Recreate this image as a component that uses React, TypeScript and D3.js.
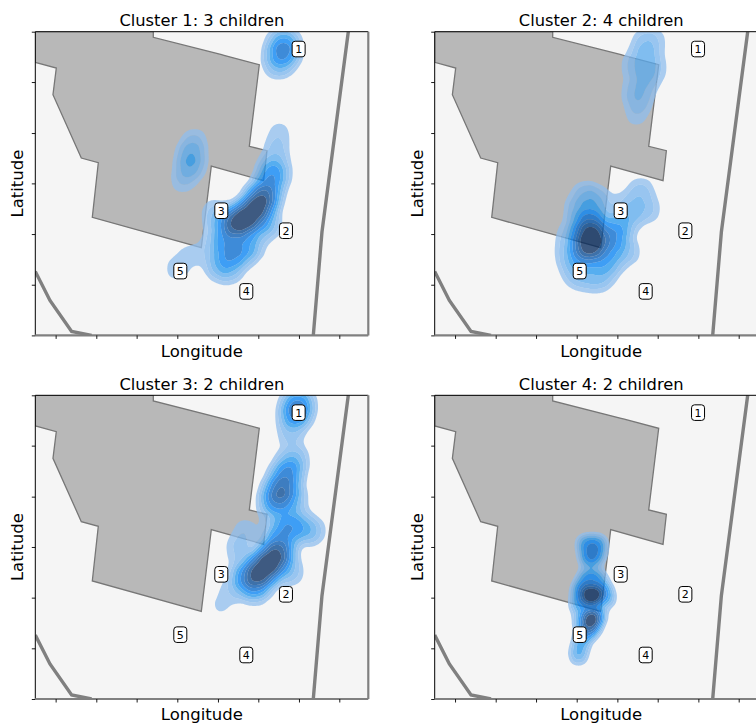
import { useEffect, useRef } from 'react';
import * as d3 from 'd3';

const lonDomain = [106, 1105];
const latDomain = [0, 911];
const lonTicks = [167, 289, 410, 532, 654, 775, 897, 1018];
const latTicks = [0, 152, 304, 456, 607, 760, 911];

const titles = ['Cluster 1: 3 children', 'Cluster 2: 4 children', 'Cluster 3: 2 children', 'Cluster 4: 2 children'];

// blocks boundary
const zone: [number, number][] = [
  [460, 911], [460, 894], [665, 842], [672, 840], [778, 812], [748, 567], [801, 554], [791, 464], [634, 508],
  [604, 263], [277, 354], [295, 518], [244, 532], [159, 722], [169, 802], [106, 819], [106, 911],
];
const roadRight: [number, number][] = [[1045, 911], [966, 310], [940, 0]];
const roadLeft: [number, number][] = [[106, 192], [150, 105], [215, 12], [275, 0]];

const schoolIds = ['1', '2', '3', '4', '5'];
const schoolLon = [896, 858, 664, 739, 541];
const schoolLat = [859, 314, 374, 132, 193];

// children locations with a weight, one list per cluster
const cluster1Points: [number, number, number][] = [
  [852, 880, 0.55], [848, 845, 0.62], [835, 805, 0.28], [870, 850, 0.12], [820, 840, 0.1],
  [585, 590, 0.2], [572, 545, 0.36], [565, 500, 0.3], [545, 455, 0.17], [590, 510, 0.1],
  [705, 335, 1.5], [740, 350, 1.5], [770, 385, 1.5], [795, 420, 1.3], [670, 280, 0.6], [700, 240, 0.65], [745, 265, 0.6],
  [815, 485, 0.7], [832, 480, 0.2], [828, 550, 0.28], [838, 612, 0.18], [650, 350, 0.35], [655, 210, 0.38], [690, 190, 0.25],
  [530, 198, 0.2], [565, 240, 0.15], [610, 265, 0.1], [630, 400, 0.08], [800, 330, 0.45],
];
const cluster2Points: [number, number, number][] = [
  [735, 880, 0.3], [742, 830, 0.36], [740, 770, 0.34], [725, 710, 0.28], [710, 655, 0.2], [775, 890, 0.14],
  [695, 810, 0.22], [695, 730, 0.18], [775, 800, 0.14],
  [572, 305, 1.6], [572, 265, 1.8], [575, 345, 0.8], [595, 405, 0.35], [550, 240, 0.5], [545, 175, 0.3],
  [600, 170, 0.4], [635, 285, 0.9], [660, 330, 0.6], [700, 370, 0.32], [725, 435, 0.32], [750, 375, 0.25], [685, 250, 0.32], [625, 220, 0.6],
  [510, 300, 0.32], [505, 240, 0.3], [522, 190, 0.2], [555, 425, 0.3], [530, 375, 0.3], [672, 400, 0.14],
];
const cluster3Points: [number, number, number][] = [
  [895, 885, 0.5], [885, 850, 0.45], [870, 790, 0.14], [862, 680, 0.5], [842, 630, 0.65], [825, 590, 0.5], [885, 720, 0.2],
  [880, 600, 0.25], [875, 520, 0.45], [930, 505, 0.28], [835, 500, 0.3], [775, 375, 0.9], [805, 405, 1], [835, 440, 0.9],
  [730, 365, 0.35], [765, 330, 0.35], [685, 315, 0.1], [655, 268, 0.07], [735, 510, 0.12], [715, 450, 0.16], [870, 380, 0.2],
];
const cluster4Points: [number, number, number][] = [
  [560, 465, 0.42], [595, 465, 0.42], [565, 425, 0.4], [590, 430, 0.4], [577, 385, 0.12],
  [577, 310, 1.6], [545, 325, 0.5], [610, 325, 0.45], [620, 300, 0.3], [540, 285, 0.4], [560, 360, 0.4], [595, 360, 0.35],
  [575, 245, 1], [572, 215, 0.8], [552, 185, 0.4], [540, 150, 0.25], [537, 125, 0.2], [595, 250, 0.35], [545, 235, 0.25],
];
const clusters = [cluster1Points, cluster2Points, cluster3Points, cluster4Points];
const bandwidths = [9.5, 9.5, 9.5, 6];

const levels = [0.05, 0.09, 0.14, 0.2, 0.27, 0.36, 0.47, 0.58, 0.72];
const bandColors = ['#8fbeee', '#78b4ee', '#58a9ee', '#2095ee', '#0080f4', '#0067ce', '#0054ae', '#00448f', '#002659'];

const panelW = 333;
const panelH = 303.7;

function ClusterPanel({ index, left, top }: { index: number; left: number; top: number }) {
  const ref = useRef<SVGGElement>(null);

  useEffect(() => {
    if (!ref.current) return;
    const g = d3.select(ref.current);
    g.selectAll('*').remove();

    const x = d3.scaleLinear().domain(lonDomain).range([0, panelW]);
    const y = d3.scaleLinear().domain(latDomain).range([panelH, 0]);
    const clipId = `clip-${index}`;

    g.append('clipPath').attr('id', clipId).append('rect').attr('width', panelW).attr('height', panelH);
    const plot = g.append('g').attr('clip-path', `url(#${clipId})`);
    plot.append('rect').attr('width', panelW).attr('height', panelH).attr('fill', '#f5f5f5');

    const line = d3.line<[number, number]>().x(d => x(d[0])).y(d => y(d[1]));
    plot.append('path').attr('d', line(zone) + 'Z')
      .attr('fill', '#b8b8b8').attr('stroke', '#777777').attr('stroke-width', 1.3);
    [roadRight, roadLeft].forEach(r => {
      plot.append('path').attr('d', line(r)).attr('fill', 'none')
        .attr('stroke', '#808080').attr('stroke-width', 3.4);
    });

    // density bands, each one only between two levels like a filled kde
    const density = d3.contourDensity<[number, number, number]>()
      .x(d => x(d[0])).y(d => y(d[1])).weight(d => d[2])
      .size([panelW, panelH]).cellSize(1).bandwidth(bandwidths[index])
      .contours(clusters[index]);
    const geo = d3.geoPath();
    levels.forEach((lv, i) => {
      const lower = geo(density(lv * density.max)) ?? '';
      const upper = i + 1 < levels.length ? geo(density(levels[i + 1] * density.max)) ?? '' : '';
      plot.append('path').attr('d', lower + upper)
        .attr('fill', bandColors[i]).attr('fill-opacity', 0.75).attr('fill-rule', 'evenodd');
    });

    // spines
    const frame = g.append('g');
    frame.append('line').attr('x1', 0).attr('x2', panelW).attr('stroke', '#000').attr('stroke-width', 1);
    frame.append('line').attr('y1', 0).attr('y2', panelH).attr('stroke', '#000').attr('stroke-width', 1);
    frame.append('line').attr('x1', panelW).attr('x2', panelW).attr('y2', panelH).attr('stroke', '#808080').attr('stroke-width', 2.2);
    frame.append('line').attr('x2', panelW).attr('y1', panelH).attr('y2', panelH).attr('stroke', '#808080').attr('stroke-width', 2.2);

    // axes without labels
    const xAxis = g.append('g').attr('transform', `translate(0,${panelH})`)
      .call(d3.axisBottom(x).tickValues(lonTicks).tickSize(3.5).tickFormat(() => ''));
    const yAxis = g.append('g')
      .call(d3.axisLeft(y).tickValues(latTicks).tickSize(3.5).tickFormat(() => ''));
    [xAxis, yAxis].forEach(a => {
      a.select('.domain').remove();
      a.selectAll('line').attr('stroke', '#000').attr('stroke-width', 0.9);
    });

    // school labels
    const label = g.selectAll('.school').data(schoolIds).enter().append('g')
      .attr('class', 'school')
      .attr('transform', (_, i) => `translate(${x(schoolLon[i])},${y(schoolLat[i])})`);
    label.append('rect').attr('x', -6.5).attr('y', -7.8).attr('width', 13).attr('height', 15.6).attr('rx', 3)
      .attr('fill', '#fff').attr('stroke', '#000').attr('stroke-width', 1);
    label.append('text').attr('text-anchor', 'middle').attr('y', 4)
      .attr('font-size', 11).attr('fill', '#000').text(d => d);

    g.append('text').attr('x', panelW / 2).attr('y', -5.5).attr('text-anchor', 'middle')
      .attr('font-size', 16.3).text(titles[index]);
    g.append('text').attr('x', panelW / 2).attr('y', panelH + 21.5).attr('text-anchor', 'middle')
      .attr('font-size', 16.5).text('Longitude');
    g.append('text').attr('transform', `translate(-12,${panelH / 2}) rotate(-90)`).attr('text-anchor', 'middle')
      .attr('font-size', 16.5).text('Latitude');
  }, [index]);

  return <g ref={ref} transform={`translate(${left},${top})`} />;
}

export default function App() {
  return (
    <svg
      width={756}
      height={723}
      style={{ position: 'absolute', left: 0, top: 0, display: 'block', background: '#fff' }}
      fontFamily="'DejaVu Sans', sans-serif"
    >
      <ClusterPanel index={0} left={35.3} top={31.7} />
      <ClusterPanel index={1} left={434.7} top={31.7} />
      <ClusterPanel index={2} left={35.3} top={395.3} />
      <ClusterPanel index={3} left={434.7} top={395.3} />
    </svg>
  );
}
